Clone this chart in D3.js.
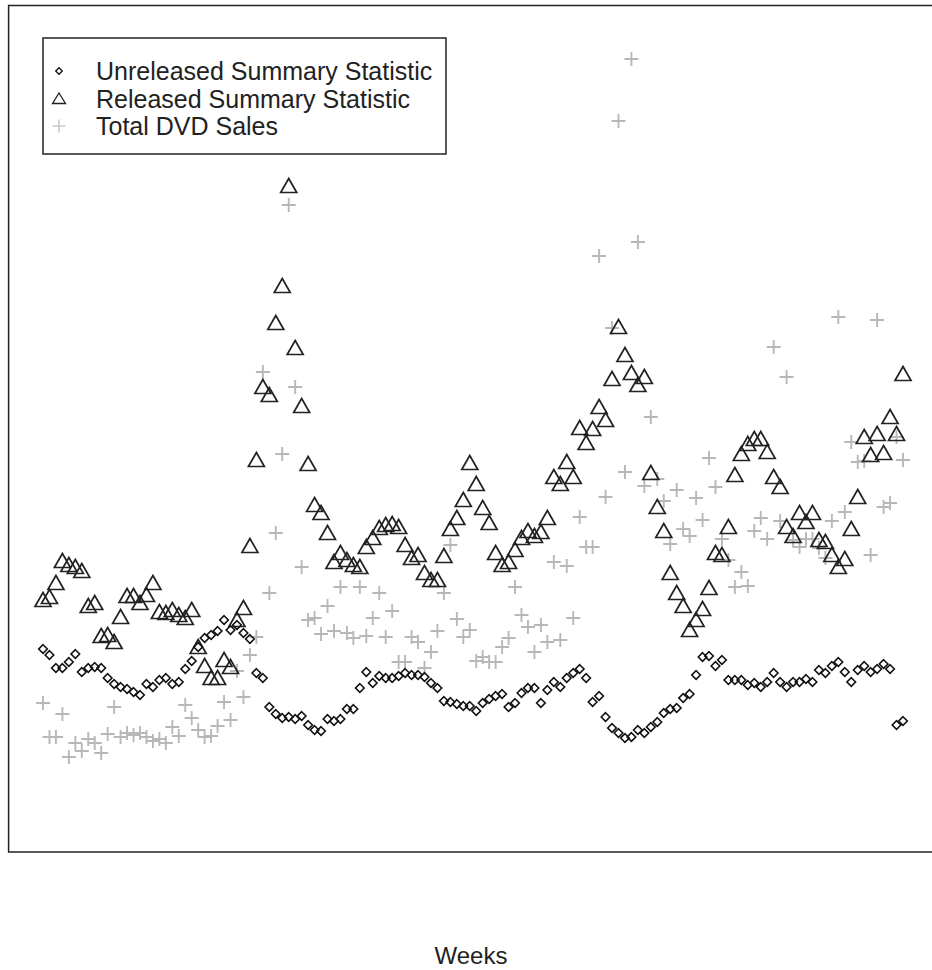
<!DOCTYPE html>
<meta charset="utf-8">
<script src="https://d3js.org/d3.v7.js"></script>
<style>
  body { margin: 0; background: #fff; }
  text { font-family: "Liberation Sans", Arial, sans-serif; fill: #222; }
</style>
<div id="chart"></div>
<script>
// weekly values, arbitrary units (no y axis in the original)
const unreleased = [203,197,184,184,190,198,180,184,185,184,174,168,165,163,160,157,168,165,172,174,
  168,170,183,191,205,214,217,221,232,222,227,219,213,179,174,145,138,134,135,133,
  136,127,122,121,133,131,133,143,143,164,180,169,176,174,174,176,179,177,177,175,
  169,164,151,150,148,146,146,141,149,153,156,158,145,149,159,164,164,149,162,170,
  165,174,179,183,174,150,156,135,124,119,114,115,122,119,125,130,139,143,144,154,
  158,177,195,196,186,192,172,172,172,167,169,165,170,179,170,165,170,170,173,170,
  182,179,186,190,180,170,182,186,180,183,188,183,127,131];

const released = [252,255,269,291,287,285,281,246,249,216,217,210,235,256,256,249,257,269,240,239,
  242,237,234,242,205,186,174,174,192,185,232,244,306,392,465,457,529,566,666,504,
  446,388,347,339,319,290,299,292,287,285,305,314,324,327,328,325,307,294,297,279,
  272,272,296,323,334,352,389,368,344,329,299,287,290,302,314,321,316,320,334,375,
  368,390,375,424,409,423,445,432,473,525,497,479,467,475,379,345,321,279,259,246,
  222,232,243,264,299,297,325,377,398,408,413,413,400,375,365,325,316,339,330,339,
  312,310,297,285,293,323,355,415,397,418,399,435,418,478];

const totalSales = [149,115,115,138,95,109,101,113,109,99,118,145,115,119,117,119,115,111,113,109,
  125,116,147,134,122,115,116,126,150,132,181,155,197,215,480,259,319,398,647,465,
  285,232,234,218,246,221,265,219,214,265,216,234,259,215,241,190,190,215,210,184,
  200,221,259,307,233,215,222,191,195,190,190,205,214,265,237,225,200,227,210,290,
  212,286,234,335,305,305,596,355,524,731,380,793,610,366,435,373,351,308,362,323,
  316,354,332,394,365,313,292,265,280,266,321,334,313,505,331,475,312,305,313,313,
  304,294,331,535,340,410,390,391,297,532,345,349,415,392];

const legendLabels = ["Unreleased Summary Statistic", "Released Summary Statistic", "Total DVD Sales"];

const W = 932, H = 970;
const plot = {left: 8.6, right: 937.4, top: 5.5, bottom: 852};
const n = unreleased.length;
const weeks = d3.range(1, n + 1);
const pad = 0.04 * (n - 1);

const x = d3.scaleLinear().domain([1 - pad, n + pad]).range([plot.left, plot.right]);
const y = d3.scaleLinear().domain([0, plot.bottom - plot.top]).range([plot.bottom, plot.top]);

const svg = d3.select("#chart").append("svg")
  .attr("width", W).attr("height", H);

svg.append("rect")
  .attr("x", plot.left).attr("y", plot.top)
  .attr("width", plot.right - plot.left).attr("height", plot.bottom - plot.top)
  .attr("fill", "none").attr("stroke", "#222").attr("stroke-width", 1.5);

const plusPath = "M-7,0H7M0,-7V7";
const triPath = "M0,-7.5L8,6.5L-8,6.5Z";
const diaPath = "M0,-4.3L4.3,0L0,4.3L-4.3,0Z";

// total sales: light grey plus signs
svg.append("g").selectAll("path")
  .data(weeks)
  .join("path")
    .attr("d", plusPath)
    .attr("transform", i => `translate(${x(i)},${y(totalSales[i - 1])})`)
    .attr("stroke", "#b8b8b8").attr("stroke-width", 1.9).attr("fill", "none");

// released: open triangles
svg.append("g").selectAll("path")
  .data(weeks)
  .join("path")
    .attr("d", triPath)
    .attr("transform", i => `translate(${x(i)},${y(released[i - 1])})`)
    .attr("stroke", "#222").attr("stroke-width", 1.7).attr("fill", "none");

// unreleased: open diamonds
svg.append("g").selectAll("path")
  .data(weeks)
  .join("path")
    .attr("d", diaPath)
    .attr("transform", i => `translate(${x(i)},${y(unreleased[i - 1])})`)
    .attr("stroke", "#111").attr("stroke-width", 1.6).attr("fill", "none");

// legend
const lg = svg.append("g");
lg.append("rect")
  .attr("x", 43).attr("y", 38).attr("width", 403).attr("height", 116)
  .attr("fill", "#fff").attr("stroke", "#222").attr("stroke-width", 1.5);

const symbols = [
  {d: "M0,-3.3L3.3,0L0,3.3L-3.3,0Z", stroke: "#111", w: 1.3},
  {d: "M0,-5.5L6.5,5L-6.5,5Z", stroke: "#222", w: 1.3},
  {d: "M-6.5,0H6.5M0,-6.5V6.5", stroke: "#c8c8c8", w: 1.6}
];
legendLabels.forEach((label, k) => {
  const base = 80 + k * 27.5;
  lg.append("path")
    .attr("d", symbols[k].d)
    .attr("transform", `translate(59,${base - 9})`)
    .attr("fill", "none").attr("stroke", symbols[k].stroke).attr("stroke-width", symbols[k].w);
  lg.append("text")
    .attr("x", 96).attr("y", base)
    .style("font-size", "25px")
    .text(label);
});

svg.append("text")
  .attr("x", (plot.left + plot.right) / 2 - 2).attr("y", 964)
  .attr("text-anchor", "middle")
  .style("font-size", "24px")
  .text("Weeks");
</script>
